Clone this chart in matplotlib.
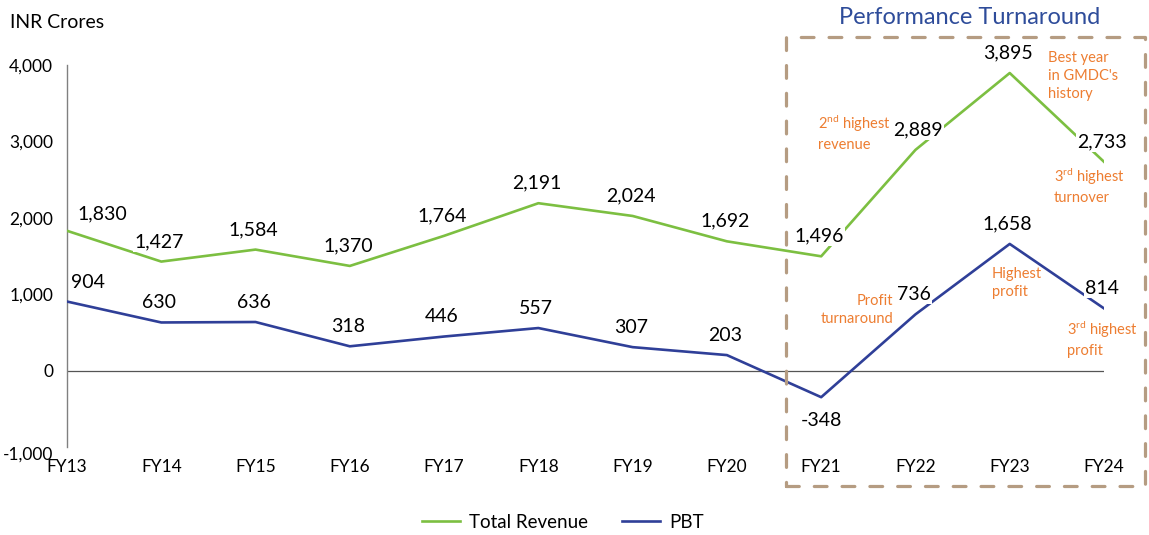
import matplotlib
matplotlib.use("Agg")
import matplotlib.pyplot as plt
from matplotlib.patches import Rectangle

plt.rcParams['font.family'] = ['Lato', 'DejaVu Sans']
plt.rcParams['mathtext.fontset'] = 'custom'
plt.rcParams['mathtext.rm'] = 'Lato'
plt.rcParams['mathtext.it'] = 'Lato:italic'
plt.rcParams['mathtext.bf'] = 'Lato:bold'

years = ["FY13", "FY14", "FY15", "FY16", "FY17", "FY18", "FY19", "FY20", "FY21", "FY22", "FY23", "FY24"]
revenue = [1830, 1427, 1584, 1370, 1764, 2191, 2024, 1692, 1496, 2889, 3895, 2733]
pbt = [904, 630, 636, 318, 446, 557, 307, 203, -348, 736, 1658, 814]
yticks = [-1000, 0, 1000, 2000, 3000, 4000]

GREEN = "#7cbf41"
BLUE = "#2f3f98"
ORANGE = "#ED7D31"
TITLEBLUE = "#2E4C9A"
BOXC = "#b59c82"

W, H = 1149, 535
fig = plt.figure(figsize=(W / 100, H / 100), dpi=100)
ax = fig.add_axes([67 / W, 1 - 447 / H, (1104 - 67) / W, (447 - 65) / H])

x = list(range(len(years)))
ax.plot(x, revenue, color=GREEN, lw=1.9, label="Total Revenue", zorder=3)
ax.plot(x, pbt, color=BLUE, lw=1.9, label="PBT", zorder=3)
ax.axhline(0, color="#555555", lw=0.9, zorder=2)

ax.set_xlim(0, 11)
ax.set_ylim(-1000, 4000)
ax.set_yticks(yticks)
ax.set_yticklabels([f"{v:,}" for v in yticks], fontsize=12.5)
ax.set_xticks([])
for s in ["top", "right", "bottom"]:
    ax.spines[s].set_visible(False)
ax.spines["left"].set_color("#808080")
ax.spines["left"].set_linewidth(1.0)
ax.tick_params(axis="y", length=0, pad=10)
for lbl in ax.get_yticklabels():
    if lbl.get_text() == "-1,000":
        lbl.set_va("top")

# category labels below the plot
for i, yr in enumerate(years):
    ax.annotate(yr, (i, -1000), xytext=(0, -20), textcoords="offset pixels",
                ha="center", va="center", fontsize=12.5)

# data labels
bb = dict(boxstyle="square,pad=0.08", fc="white", ec="none")
for i, v in enumerate(revenue):
    if i == 0:
        dx, dy = (35, 17)
    elif i == 9:
        dx, dy = (2, 20)
    else:
        dx, dy = (-2, 20)
    ax.annotate(f"{v:,}", (i, v), xytext=(dx, dy), textcoords="offset pixels",
                ha="center", va="center", fontsize=14, bbox=bb, zorder=4)
for i, v in enumerate(pbt):
    if i == 0:
        dx, dy = (21, 19)
    elif v < 0:
        dx, dy = (0, -23)
    else:
        dx, dy = (-2, 20)
    ax.annotate(f"{v:,}", (i, v), xytext=(dx, dy), textcoords="offset pixels",
                ha="center", va="center", fontsize=14, bbox=bb, zorder=4)

fig.text(10 / W, 1 - 22 / H, "INR Crores", fontsize=14, ha="left", va="center")

# annotations (figure pixel coords)
def ftext(px, py, s, ha="left"):
    t = fig.text(px / W, 1 - py / H, s, color=ORANGE, fontsize=10.5, ha=ha, va="center",
                 linespacing=1.35)
    t.set_multialignment(ha)
    return t

ftext(818, 133, "2$^{\\mathrm{nd}}$ highest\nrevenue")
ftext(1048, 76, "Best year\nin GMDC's\nhistory")
ftext(1054, 186, "3$^{\\mathrm{rd}}$ highest\nturnover")
ftext(893, 310, "Profit\nturnaround", ha="right")
ftext(992, 283, "Highest\nprofit")
ftext(1067, 339, "3$^{\\mathrm{rd}}$ highest\nprofit")

fig.text(970 / W, 1 - 18 / H, "Performance Turnaround", color=TITLEBLUE, fontsize=17,
         ha="center", va="center")

box = Rectangle((786 / W, 1 - 486 / H), (1145 - 786) / W, (486 - 37) / H,
                transform=fig.transFigure, fill=False, ec=BOXC, lw=2.3,
                ls=(0, (4, 4.7)), capstyle="round", joinstyle="round")
fig.add_artist(box)

fig.legend(loc="center", bbox_to_anchor=(563 / W, 1 - 522 / H), ncol=2, frameon=False,
           fontsize=13.5, handlelength=2.0, columnspacing=1.8, handletextpad=0.5)

fig.savefig("out.png", dpi=100)
